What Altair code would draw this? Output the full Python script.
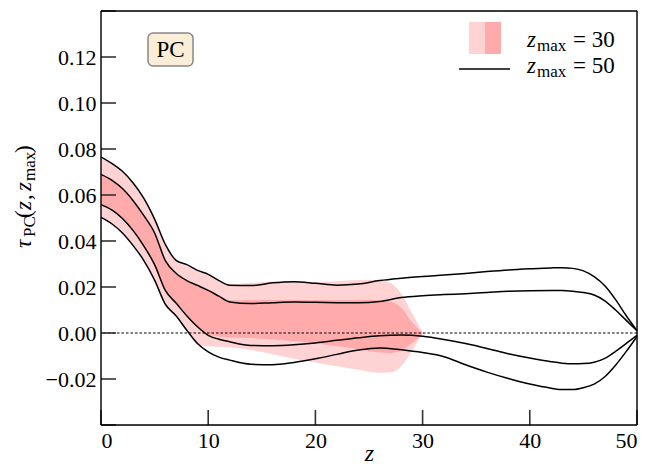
import altair as alt
import pandas as pd

# ---------------- data ----------------
z_lines = [0, 1, 2, 3, 4, 5, 6, 7, 8, 9, 10, 11, 12, 14, 16, 18, 20, 22, 24, 26, 28, 30,
           32, 34, 36, 38, 40, 42, 43, 44, 45, 46, 47, 48, 49, 50]
outer_upper_50 = [0.0765, 0.0738, 0.0703, 0.0652, 0.0585, 0.0495, 0.0385, 0.0316, 0.0297, 0.0272,
                  0.0255, 0.0228, 0.0208, 0.0206, 0.0218, 0.0223, 0.0216, 0.0208, 0.0213, 0.0228,
                  0.0238, 0.0246, 0.0252, 0.0259, 0.0267, 0.0274, 0.0279, 0.0283, 0.0284, 0.0281,
                  0.0270, 0.0245, 0.0205, 0.0145, 0.0075, 0.0010]
inner_upper_50 = [0.0690, 0.0665, 0.0628, 0.0575, 0.0510, 0.0435, 0.0315, 0.0260, 0.0228, 0.0207,
                  0.0185, 0.0160, 0.0135, 0.0128, 0.0132, 0.0135, 0.0134, 0.0132, 0.0131, 0.0137,
                  0.0154, 0.0162, 0.0167, 0.0171, 0.0176, 0.0181, 0.0184, 0.0185, 0.0185, 0.0182,
                  0.0176, 0.0165, 0.0140, 0.0100, 0.0055, 0.0010]
inner_lower_50 = [0.0558, 0.0535, 0.0498, 0.0445, 0.0378, 0.0297, 0.0185, 0.0130, 0.0075, 0.0027,
                  -0.0010, -0.0027, -0.0038, -0.0054, -0.0055, -0.0051, -0.0043, -0.0032, -0.0021, -0.0012,
                  -0.0009, -0.0014, -0.0028, -0.0046, -0.0067, -0.0090, -0.0109, -0.0125, -0.0131, -0.0134,
                  -0.0133, -0.0127, -0.0110, -0.0080, -0.0045, -0.0010]
outer_lower_50 = [0.0503, 0.0475, 0.0435, 0.0380, 0.0315, 0.0230, 0.0125, 0.0075, 0.0012, -0.0046,
                  -0.0082, -0.0105, -0.0118, -0.0136, -0.0138, -0.0128, -0.0112, -0.0093, -0.0074, -0.0065,
                  -0.0073, -0.0085, -0.0103, -0.0138, -0.0170, -0.0198, -0.0222, -0.0240, -0.0246, -0.0246,
                  -0.0238, -0.0222, -0.0190, -0.0140, -0.0080, -0.0015]

z_band = [0, 1, 2, 3, 4, 5, 6, 7, 8, 9, 10, 11, 12, 14, 16, 18, 20, 22, 24, 25, 26, 27, 28, 29, 30]
light_hi_30 = [0.0760, 0.0734, 0.0699, 0.0648, 0.0580, 0.0490, 0.0380, 0.0312, 0.0291, 0.0268,
               0.0251, 0.0224, 0.0210, 0.0218, 0.0223, 0.0223, 0.0221, 0.0225, 0.0230, 0.0232,
               0.0228, 0.0217, 0.0172, 0.0088, 0.0002]
light_lo_30 = [0.0506, 0.0478, 0.0438, 0.0384, 0.0319, 0.0233, 0.0132, 0.0079, 0.0015, -0.0050,
               -0.0058, -0.0060, -0.0062, -0.0074, -0.0092, -0.0112, -0.0128, -0.0145, -0.0160, -0.0168,
               -0.0173, -0.0172, -0.0145, -0.0078, -0.0003]
dark_hi_30 = [0.0688, 0.0663, 0.0626, 0.0573, 0.0508, 0.0433, 0.0313, 0.0258, 0.0226, 0.0205,
              0.0183, 0.0160, 0.0142, 0.0143, 0.0144, 0.0144, 0.0143, 0.0143, 0.0145, 0.0145,
              0.0142, 0.0137, 0.0110, 0.0048, 0.0000]
dark_lo_30 = [0.0560, 0.0537, 0.0500, 0.0447, 0.0380, 0.0299, 0.0187, 0.0132, 0.0080, 0.0030,
              -0.0005, -0.0015, -0.0020, -0.0022, -0.0028, -0.0035, -0.0045, -0.0058, -0.0070, -0.0078,
              -0.0085, -0.0087, -0.0075, -0.0045, -0.0002]

x_tick_values = [0, 10, 20, 30, 40, 50]
y_tick_values = [-0.04, -0.02, 0.0, 0.02, 0.04, 0.06, 0.08, 0.10, 0.12, 0.14]
y_label_values = [-0.02, 0.0, 0.02, 0.04, 0.06, 0.08, 0.10, 0.12]

# ---------------- frames ----------------
lines_df = pd.concat([
    pd.DataFrame({"z": z_lines, "v": s, "series": name})
    for name, s in [("outer_upper", outer_upper_50), ("inner_upper", inner_upper_50),
                    ("inner_lower", inner_lower_50), ("outer_lower", outer_lower_50)]
])
band_df = pd.DataFrame({"z": z_band, "lh": light_hi_30, "ll": light_lo_30,
                        "dh": dark_hi_30, "dl": dark_lo_30})
xt_df = pd.DataFrame({"t": x_tick_values})
yt_df = pd.DataFrame({"t": y_tick_values})
zero_df = pd.DataFrame({"y": [0.0]})

W, H = 536, 414
SERIF = "Liberation Serif"
LIGHT = "#FFD2D4"
DARK = "#FFAAAB"

xscale = alt.Scale(domain=[0, 50], nice=False, zero=False)
yscale = alt.Scale(domain=[-0.04, 0.14], nice=False, zero=False)

xaxis = alt.Axis(values=x_tick_values, format="d", ticks=False, tickSize=0, domain=False, grid=False,
                 labelFont=SERIF, labelFontSize=22, labelColor="black", labelPadding=5,
                 title="z", titleFont=SERIF, titleFontStyle="italic", titleFontWeight="normal",
                 titleFontSize=24, titleColor="black", titleBaseline="alphabetic", titleY=35)
yaxis = alt.Axis(values=y_label_values, format=".2f", ticks=False, tickSize=0, domain=False, grid=False,
                 labelFont=SERIF, labelFontSize=22, labelColor="black", labelPadding=5, title=None)

base_band = alt.Chart(band_df)
light = base_band.mark_area(color=LIGHT, interpolate="monotone").encode(
    x=alt.X("z:Q", scale=xscale, axis=xaxis),
    y=alt.Y("ll:Q", scale=yscale, axis=yaxis),
    y2="lh:Q",
)
dark = base_band.mark_area(color=DARK, interpolate="monotone").encode(
    x=alt.X("z:Q", scale=xscale), y=alt.Y("dl:Q", scale=yscale), y2="dh:Q"
)
zero = alt.Chart(zero_df).mark_rule(color="black", strokeDash=[2.5, 2], strokeWidth=1.1).encode(
    y=alt.Y("y:Q", scale=yscale)
)
lines = alt.Chart(lines_df).mark_line(color="black", strokeWidth=1.5, interpolate="monotone").encode(
    x=alt.X("z:Q", scale=xscale), y=alt.Y("v:Q", scale=yscale), detail="series:N"
)
yticks = alt.Chart(yt_df).mark_rule(color="#333333", strokeWidth=1.6).encode(
    y=alt.Y("t:Q", scale=yscale), x=alt.value(0), x2=alt.value(15)
)
xticks = alt.Chart(xt_df).mark_rule(color="#333333", strokeWidth=1.6).encode(
    x=alt.X("t:Q", scale=xscale), y=alt.value(H), y2=alt.value(H - 15)
)


def rule(x1, x2, y1, y2, color="black", width=1.4):
    return alt.Chart(zero_df).mark_rule(color=color, strokeWidth=width).encode(
        x=alt.value(x1), x2=alt.value(x2), y=alt.value(y1), y2=alt.value(y2))


frame = [rule(0, W, 0, 0), rule(0, W, H, H), rule(0, 0, 0, H), rule(W, W, 0, H)]

# PC box
pc_box = alt.Chart(zero_df).mark_rect(fill="#FAEED9", stroke="#888888", strokeWidth=1.5,
                                       cornerRadius=5).encode(
    x=alt.value(47), x2=alt.value(92), y=alt.value(22), y2=alt.value(55))
pc_text = alt.Chart(zero_df).mark_text(text="PC", font=SERIF, fontSize=23, align="center",
                                       baseline="middle", color="black").encode(
    x=alt.value(69.5), y=alt.value(39))

# legend
leg_light = alt.Chart(zero_df).mark_rect(fill=LIGHT).encode(
    x=alt.value(368), x2=alt.value(384), y=alt.value(11), y2=alt.value(43))
leg_dark = alt.Chart(zero_df).mark_rect(fill=DARK).encode(
    x=alt.value(384), x2=alt.value(400), y=alt.value(11), y2=alt.value(43))
leg_line = rule(358, 409, 58, 58, width=1.5)


def txt(s, x, y, size=23, style="normal", angle=0, align="left"):
    return alt.Chart(zero_df).mark_text(text=s, font=SERIF, fontSize=size, fontStyle=style,
                                        align=align, baseline="alphabetic", angle=angle,
                                        color="black").encode(x=alt.value(x), y=alt.value(y))


legend_texts = [
    txt("z", 426, 36, style="italic"), txt("max", 436, 40, size=17), txt("= 30", 472, 36),
    txt("z", 426, 62, style="italic"), txt("max", 436, 66, size=17), txt("= 50", 472, 62),
]

# rotated y title: tau_PC(z, z_max)
bx, sx = -70, -66
ytitle = [
    txt("τ", bx, 237, style="italic", angle=270),
    txt("PC", sx, 226, size=17, angle=270),
    txt("(", bx, 207, angle=270),
    txt("z", bx, 199, style="italic", angle=270),
    txt(",", bx, 189, angle=270),
    txt("z", bx, 180, style="italic", angle=270),
    txt("max", sx, 170, size=17, angle=270),
    txt(")", bx, 142, angle=270),
]

chart = alt.layer(
    light, dark, zero, lines, yticks, xticks, *frame, pc_box, pc_text, leg_light, leg_dark, leg_line,
    *legend_texts, *ytitle
).properties(
    width=W, height=H,
    autosize=alt.AutoSizeParams(type="none"),
    padding={"left": 93, "top": 3, "right": 4, "bottom": 41},
).configure_view(stroke=None).configure(background="white")

chart.save("out.html", embed_options={"renderer": "svg", "actions": False})
